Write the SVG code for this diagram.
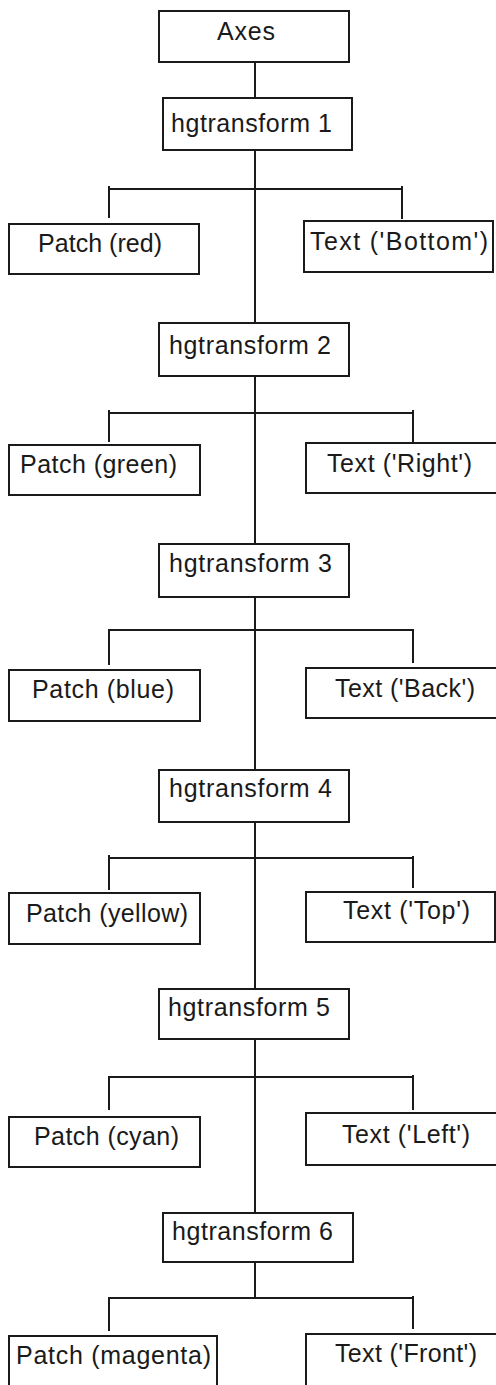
<svg xmlns="http://www.w3.org/2000/svg" width="496" height="1385" viewBox="0 0 496 1385">
<style>
.box{fill:#fff;stroke:#1a1a1a;stroke-width:2}
.lbl{font-family:"Liberation Sans",Arial,Helvetica,sans-serif;font-size:25px;fill:#1a1a1a}
.ln{fill:none;stroke:#1a1a1a;stroke-width:2}
</style>
<rect width="496" height="1385" fill="#fff"/>
<g id="connectors">
<path class="ln" d="M255 62V98"/>
<path class="ln" d="M255 150V323"/>
<path class="ln" d="M255 376V544"/>
<path class="ln" d="M255 597V770"/>
<path class="ln" d="M255 822V989"/>
<path class="ln" d="M255 1039V1213"/>
<path class="ln" d="M255 1262V1298"/>
<path class="ln" d="M109 218V186M109 189H402M402 186V219"/>
<path class="ln" d="M109 442V410M109 413H413M413 410V443"/>
<path class="ln" d="M109 665V630H413V663"/>
<path class="ln" d="M109 890V855M109 858H413M413 856V888"/>
<path class="ln" d="M109 1110V1077H413M413 1075V1110"/>
<path class="ln" d="M109 1331V1298H413M413 1296V1329"/>
</g>
<g id="axes"><rect class="box" x="159" y="11" width="190" height="51"/><text class="lbl" x="217" y="40" textLength="58" lengthAdjust="spacing">Axes</text></g>
<g id="hgt1"><rect class="box" x="163" y="98" width="189" height="52"/><text class="lbl" x="171" y="132" textLength="161" lengthAdjust="spacing">hgtransform 1</text></g>
<g id="patch-red"><rect class="box" x="9" y="224" width="190" height="50"/><text class="lbl" x="38" y="252" textLength="124" lengthAdjust="spacing">Patch (red)</text></g>
<g id="text-bottom"><rect class="box" x="304" y="221" width="189" height="51"/><text class="lbl" x="310" y="250" textLength="178" lengthAdjust="spacing">Text ('Bottom')</text></g>
<g id="hgt2"><rect class="box" x="159" y="323" width="190" height="53"/><text class="lbl" x="169" y="354" textLength="162" lengthAdjust="spacing">hgtransform 2</text></g>
<g id="patch-green"><rect class="box" x="9" y="445" width="191" height="50"/><text class="lbl" x="20" y="473" textLength="157" lengthAdjust="spacing">Patch (green)</text></g>
<g id="text-right"><rect class="box" x="306" y="443" width="192" height="50"/><text class="lbl" x="327" y="472" textLength="145" lengthAdjust="spacing">Text ('Right')</text></g>
<g id="hgt3"><rect class="box" x="159" y="544" width="190" height="53"/><text class="lbl" x="169" y="572" textLength="163" lengthAdjust="spacing">hgtransform 3</text></g>
<g id="patch-blue"><rect class="box" x="9" y="670" width="191" height="51"/><text class="lbl" x="32" y="698" textLength="142" lengthAdjust="spacing">Patch (blue)</text></g>
<g id="text-back"><rect class="box" x="306" y="668" width="192" height="50"/><text class="lbl" x="335" y="697" textLength="140" lengthAdjust="spacing">Text ('Back')</text></g>
<g id="hgt4"><rect class="box" x="159" y="770" width="190" height="52"/><text class="lbl" x="169" y="797" textLength="163" lengthAdjust="spacing">hgtransform 4</text></g>
<g id="patch-yellow"><rect class="box" x="9" y="893" width="191" height="51"/><text class="lbl" x="26" y="922" textLength="162" lengthAdjust="spacing">Patch (yellow)</text></g>
<g id="text-top"><rect class="box" x="306" y="892" width="189" height="50"/><text class="lbl" x="343" y="919" textLength="127" lengthAdjust="spacing">Text ('Top')</text></g>
<g id="hgt5"><rect class="box" x="159" y="989" width="190" height="50"/><text class="lbl" x="168" y="1016" textLength="162" lengthAdjust="spacing">hgtransform 5</text></g>
<g id="patch-cyan"><rect class="box" x="9" y="1117" width="191" height="50"/><text class="lbl" x="34" y="1145" textLength="145" lengthAdjust="spacing">Patch (cyan)</text></g>
<g id="text-left"><rect class="box" x="306" y="1113" width="192" height="52"/><text class="lbl" x="342" y="1143" textLength="128" lengthAdjust="spacing">Text ('Left')</text></g>
<g id="hgt6"><rect class="box" x="163" y="1213" width="190" height="49"/><text class="lbl" x="172" y="1240" textLength="161" lengthAdjust="spacing">hgtransform 6</text></g>
<g id="patch-magenta"><rect class="box" x="9" y="1336" width="208" height="60"/><text class="lbl" x="16" y="1364" textLength="195" lengthAdjust="spacing">Patch (magenta)</text></g>
<g id="text-front"><rect class="box" x="306" y="1334" width="192" height="62"/><text class="lbl" x="335" y="1362" textLength="142" lengthAdjust="spacing">Text ('Front')</text></g>
</svg>
